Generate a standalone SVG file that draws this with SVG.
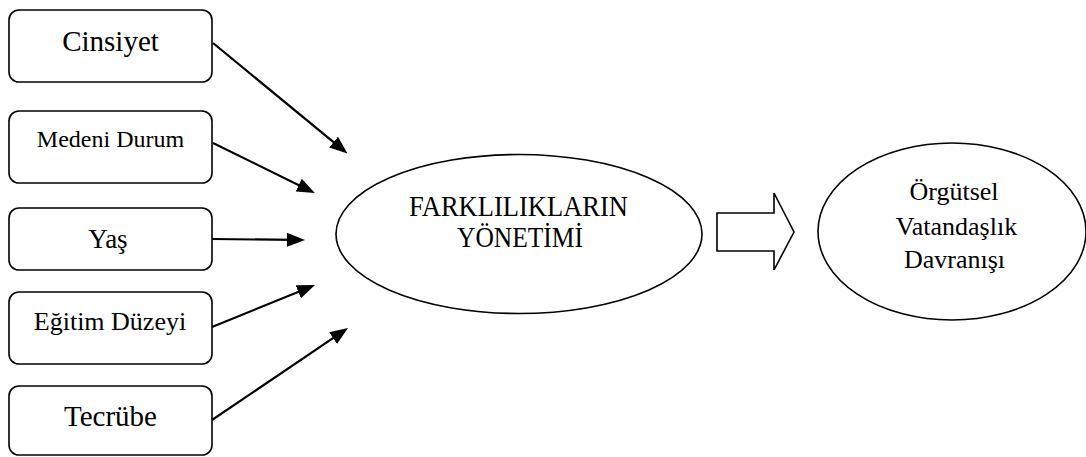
<svg xmlns="http://www.w3.org/2000/svg" width="1086" height="457" viewBox="0 0 1086 457">
<style>
.box{fill:#fff;stroke:#000;stroke-width:1.6}
.ell{fill:#fff;stroke:#000;stroke-width:1.6}
.t{font-family:"Liberation Serif","Times New Roman",serif;fill:#000;text-anchor:middle}
.conn{stroke:#000;stroke-width:2.2;fill:none;marker-end:url(#ah)}
</style>
<defs>
<marker id="ah" markerUnits="userSpaceOnUse" markerWidth="19" markerHeight="15" refX="7" refY="7" orient="auto">
<path d="M0,0 L18,7 L0,14 z" fill="#000"/>
</marker>
</defs>
<rect width="1086" height="457" fill="#fff"/>
<g id="connectors">
<line class="conn" x1="213" y1="43" x2="339" y2="146.6"/>
<line class="conn" x1="213" y1="143" x2="305" y2="188.2"/>
<line class="conn" x1="212" y1="239" x2="294" y2="239.9"/>
<line class="conn" x1="212" y1="327" x2="304.8" y2="289.2"/>
<line class="conn" x1="212" y1="420" x2="338.9" y2="334.2"/>
<path id="blockArrow" d="M717,213 L774,213 L774,193 L794,232 L774,270 L774,251 L717,251 Z" fill="#fff" stroke="#000" stroke-width="1.6" stroke-linejoin="miter"/>
</g>
<g id="cinsiyet">
<rect class="box" x="9" y="10" width="203" height="72" rx="10"/>
<text class="t" x="110.5" y="51" font-size="29">Cinsiyet</text>
</g>
<g id="medeni">
<rect class="box" x="9" y="111" width="203" height="72" rx="10"/>
<text class="t" x="110.5" y="147" font-size="24">Medeni Durum</text>
</g>
<g id="yas">
<rect class="box" x="9" y="208" width="203" height="62" rx="10"/>
<text class="t" x="108" y="248" font-size="27">Yaş</text>
</g>
<g id="egitim">
<rect class="box" x="9" y="292" width="203" height="72" rx="10"/>
<text class="t" x="110" y="330" font-size="26">Eğitim Düzeyi</text>
</g>
<g id="tecrube">
<rect class="box" x="9" y="386" width="203" height="69" rx="10"/>
<text class="t" x="110.5" y="426" font-size="29">Tecrübe</text>
</g>
<g id="farkliliklar">
<ellipse class="ell" cx="519" cy="234" rx="183" ry="79.5"/>
<text class="t" x="518.5" y="216" font-size="29" textLength="219" lengthAdjust="spacingAndGlyphs">FARKLILIKLARIN</text>
<text class="t" x="520" y="247" font-size="29" textLength="126" lengthAdjust="spacingAndGlyphs">YÖNETİMİ</text>
</g>
<g id="orgutsel">
<ellipse class="ell" cx="952" cy="231.5" rx="134" ry="88.5"/>
<text class="t" x="954" y="200" font-size="26">Örgütsel</text>
<text class="t" x="956.5" y="235" font-size="26">Vatandaşlık</text>
<text class="t" x="954.5" y="268" font-size="26">Davranışı</text>
</g>
</svg>
